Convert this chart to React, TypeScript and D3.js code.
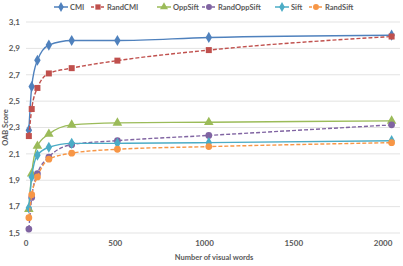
import { useEffect, useRef } from "react";
import * as d3 from "d3";

const words = [16, 32, 64, 128, 256, 512, 1024, 2048];
const cmi = [2.28, 2.61, 2.81, 2.925, 2.96, 2.96, 2.983, 3.0];
const randCmi = [2.235, 2.44, 2.6, 2.71, 2.75, 2.807, 2.887, 2.99];
const oppSift = [1.68, 1.95, 2.16, 2.25, 2.32, 2.335, 2.34, 2.35];
const randOppSift = [1.53, 1.77, 1.95, 2.075, 2.17, 2.2, 2.24, 2.32];
const sift = [1.69, 1.925, 2.09, 2.15, 2.18, 2.18, 2.185, 2.2];
const randSift = [1.616, 1.79, 1.925, 2.06, 2.105, 2.135, 2.155, 2.185];

const xTicks = [0, 500, 1000, 1500, 2000];
const yTicks = [1.5, 1.7, 1.9, 2.1, 2.3, 2.5, 2.7, 2.9, 3.1];

const series = [
  { name: "CMI", values: cmi, color: "#4F81BD", dash: false, marker: "diamond" },
  { name: "RandCMI", values: randCmi, color: "#C0504D", dash: true, marker: "square" },
  { name: "OppSift", values: oppSift, color: "#9BBB59", dash: false, marker: "triangle" },
  { name: "RandOppSift", values: randOppSift, color: "#8064A2", dash: true, marker: "circle" },
  { name: "Sift", values: sift, color: "#4BACC6", dash: false, marker: "diamond" },
  { name: "RandSift", values: randSift, color: "#F79646", dash: true, marker: "circle" },
];

const symbolFor = (m: string) =>
  m === "diamond"
    ? d3.symbolDiamond
    : m === "square"
    ? d3.symbolSquare
    : m === "triangle"
    ? d3.symbolTriangle
    : d3.symbolCircle;

const width = 403;
const height = 266;
const margin = { top: 22, left: 26, right: 3, bottom: 33 };
const font = "Lato, 'Open Sans', sans-serif";
const textColor = "#595959";

export default function App() {
  const ref = useRef<SVGSVGElement>(null);

  useEffect(() => {
    const svg = d3.select(ref.current);
    svg.selectAll("*").remove();

    const x = d3
      .scaleLinear()
      .domain([0, 2095])
      .range([margin.left, width - margin.right]);
    const y = d3
      .scaleLinear()
      .domain([1.5, 3.1])
      .range([height - margin.bottom, margin.top]);

    // grid
    svg
      .append("g")
      .selectAll("line")
      .data(yTicks)
      .enter()
      .append("line")
      .attr("x1", x(0))
      .attr("x2", width - margin.right)
      .attr("y1", (d) => y(d))
      .attr("y2", (d) => y(d))
      .attr("stroke", "#E3E3E3")
      .attr("stroke-width", 1);

    // y labels
    svg
      .append("g")
      .selectAll("text")
      .data(yTicks)
      .enter()
      .append("text")
      .attr("x", 20)
      .attr("y", (d) => y(d))
      .attr("dy", "0.35em")
      .attr("text-anchor", "end")
      .attr("font-family", font)
      .attr("font-weight", "bold")
      .attr("font-size", 8)
      .attr("fill", textColor)
      .text((d) => d3.format(".1f")(d).replace(".", ","));

    // x labels
    svg
      .append("g")
      .selectAll("text")
      .data(xTicks)
      .enter()
      .append("text")
      .attr("x", (d) => x(d))
      .attr("y", 246)
      .attr("text-anchor", "middle")
      .attr("font-family", font)
      .attr("font-weight", "bold")
      .attr("font-size", 8)
      .attr("fill", textColor)
      .text((d) => String(d));

    svg
      .append("text")
      .attr("x", 214)
      .attr("y", 260)
      .attr("text-anchor", "middle")
      .attr("font-family", font)
      .attr("font-weight", "bold")
      .attr("font-size", 7.5)
      .attr("fill", textColor)
      .text("Number of visual words");

    svg
      .append("text")
      .attr("transform", `translate(8,${(y(1.5) + y(3.1)) / 2}) rotate(-90)`)
      .attr("text-anchor", "middle")
      .attr("font-family", font)
      .attr("font-weight", "bold")
      .attr("font-size", 7.5)
      .attr("fill", textColor)
      .text("OAB Score");

    const line = d3
      .line<number>()
      .x((_, i) => x(words[i]))
      .y((d) => y(d))
      .curve(d3.curveMonotoneX);

    series.forEach((s) => {
      const g = svg.append("g");
      g.append("path")
        .attr("d", line(s.values))
        .attr("fill", "none")
        .attr("stroke", s.color)
        .attr("stroke-width", 1.4)
        .attr("stroke-dasharray", s.dash ? "4,2" : null);
      g.selectAll("path.m")
        .data(s.values)
        .enter()
        .append("path")
        .attr("class", "m")
        .attr("d", d3.symbol().type(symbolFor(s.marker)).size(s.marker === "triangle" ? 40 : 36)())
        .attr("transform", (d, i) => `translate(${x(words[i])},${y(d)})`)
        .attr("fill", s.color);
    });

    // legend
    const legendX = [61, 98, 164, 209, 282, 316];
    const lg = svg.append("g").attr("transform", "translate(0,7)");
    series.forEach((s, i) => {
      const cx = legendX[i];
      lg.append("line")
        .attr("x1", cx - 7)
        .attr("x2", cx + 7)
        .attr("stroke", s.color)
        .attr("stroke-width", 1.5)
        .attr("stroke-dasharray", s.dash ? "3,2" : null);
      lg.append("path")
        .attr("d", d3.symbol().type(symbolFor(s.marker)).size(28)())
        .attr("transform", `translate(${cx},0)`)
        .attr("fill", s.color);
      lg.append("text")
        .attr("x", cx + 9)
        .attr("dy", "0.35em")
        .attr("font-family", font)
        .attr("font-weight", "bold")
        .attr("font-size", 7.5)
        .attr("fill", textColor)
        .text(s.name);
    });
  }, []);

  return (
    <svg
      ref={ref}
      width={width}
      height={height}
      style={{ position: "absolute", left: 0, top: 0, background: "#fff" }}
    />
  );
}
